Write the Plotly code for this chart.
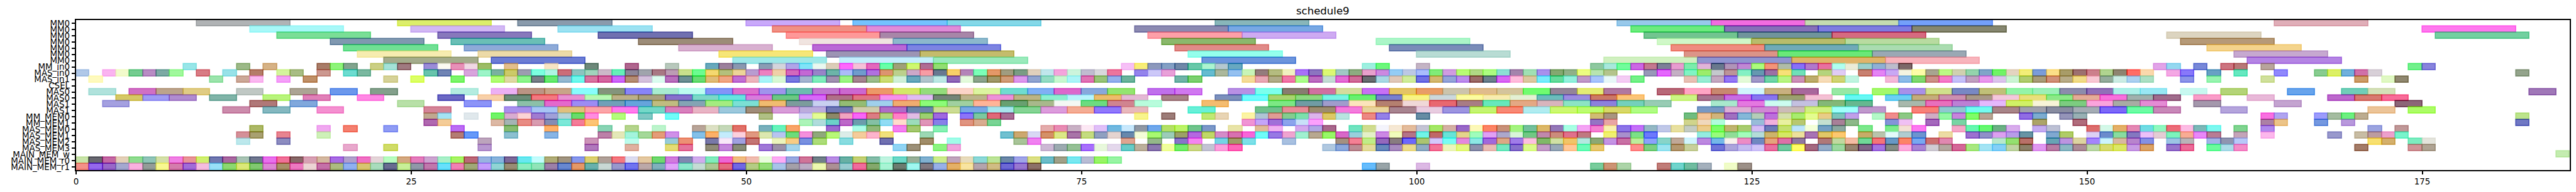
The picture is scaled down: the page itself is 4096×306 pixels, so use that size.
import plotly.graph_objects as go

title = "schedule9"
row_labels = ["MM0","MM0","MM0","MM0","MM0","MM0","MM0","MM_in0","MAS_in0","MAS_in1","CSEL","MAS0","MAS0","MAS1","MAS1",
              "MM_MEM0","MM_MEM1","MAS_MEM0","MAS_MEM1","MAS_MEM2","MAS_MEM3","MAIN_MEM_w","MAIN_MEM_r0","MAIN_MEM_r1"]
x_ticks = [0, 25, 50, 75, 100, 125, 150, 175]
x_limit = 186
# duration of a task on each row
row_durations = [7]*7 + [1]*4 + [2]*4 + [1]*9

# start:colour for each task, row by row
mm0_a = "9:b0b3b5 24:dcee6a 33:8a9bac 50:c9a9fa 58:74c2fe 65:84d8e8 85:88b6ba 115:98c9ea 122:f26ce0 129:c4dbb0 136:74a0fa 164:e0aeb8".split()
mm0_b = "13:a8f8f8 25:d2b8f4 36:9ce2f2 52:f09084 59:e08cd8 79:8c8ab2 86:78a8e4 116:6ceb7e 123:8670b8 130:7e7ce0 137:868770 175:ff78ee".split()
mm0_c = "15:7ade96 27:8878bc 39:7070b0 53:fe9898 60:a886a8 80:fe9fa8 87:ceaaf2 117:72c490 124:70949c 131:d66a80 156:dcd4c0 176:72d0a0".split()
mm0_d = "19:8098b0 28:6abfb6 42:9c8c78 54:f0e4e0 61:8cb8cc 81:8ab86c 97:abf6c8 118:d0f8c8 125:b8bc6c 132:b8dba0 157:b69a78".split()
mm0_e = "20:70e094 29:8eaad8 45:d8b0d0 55:ba68d6 62:7d84e2 82:e08a88 98:7a8cb8 119:f08c80 126:70aab8 133:aadcb0 159:f4d48c".split()
mm0_f = "21:f6ecb0 30:ecdaa8 48:f6e678 56:9c94b4 63:c4bc6c 83:94ffec 100:b8dcd4 120:dc9488 127:6ae878 134:9aa8b4 161:c6a8d0".split()
mm0_g = "23:a4ac8c 31:6b7cd4 49:9ee8e8 57:c4eefc 64:9aeabc 84:6c94dc 114:d0f0c0 121:9094d0 128:e0b46a 135:f8b4bc 162:b484e4".split()
mm_in0 = ("8:98e6e8 12:9cb988 14:d6b286 18:a87c68 19:8ef47a 20:82a48e 22:cbcf84 23:a4e2d8 24:a07a80 26:9a8cd8 27:fbfbf2 28:e890b8 29:f0d8e4 30:9cbc64 32:e4be8c 35:f8e4c4 38:6e887a 41:b0668e "
          "44:b8c8bc 47:68a8bc 48:9c809c 49:8a98b0 51:8a9cb4 52:d4d4dc 53:b0a4e8 54:80e4f8 55:eaf8f0 56:dccdb8 57:ff68fc 58:f6c0d8 59:e468bc 60:68ffa8 61:a0a078 62:cff870 63:b06c94 64:92de72 "
          "78:f6c0f6 79:f8ee78 80:8c98bc 81:84a0c4 82:7088a8 83:68c8a8 84:acf4d0 85:b4c8d0 86:68a8c0 96:9ef0e0 97:6cf87c 100:c4b4c4 113:8ec8a0 114:a8e8dc 115:72fc9c "
          "116:cc68e4 117:c47890 118:7c7f98 119:e89cd0 120:7cecac 121:e0b4d8 122:68788c 123:b094b8 124:c088d4 125:acfc7c 126:f49478 127:b0bca8 128:8870f8 129:b078cc 130:e870a0 131:b0fff0 132:ebecd8 133:9cd0cc 134:90b0d4 135:bcbccc 136:7c6868 "
          "155:e2a4e8 156:94d8f0 158:7888d8 160:cc7480 161:b87878 163:b8a49c 174:72f08c 175:8884dc").split()
mas_in0 = ("0:b0c8e8 2:fab4f0 3:f2fbcc 4:74cc90 5:b88cc4 6:7caaa4 7:a0f89c 9:d87c84 11:98e2e8 13:b47c68 15:d4f49c 16:a8bc84 18:cc9890 20:6cdcd0 21:7ab8a0 26:68c4ac 27:7084b4 29:d8a4dc 30:9cf4c8 31:7ab0a0 32:ccca68 33:9c9cb0 34:7cffe0 35:aef4e4 36:cc6c78 37:8cc4c0 38:a0d4bc 39:ccb8c8 40:64f0b8 41:8c8498 42:a0a4ac "
           "43:a87884 44:bc9cb4 45:c8e08c 46:6cfc90 47:f4d870 48:b4c07c 49:ecd498 50:b89cd0 51:ec80c0 52:f0d0a8 53:d468bc 54:c468d4 55:9884c8 56:6cb4a8 57:acbcf8 58:709ccc 59:b070e0 60:dc9470 61:bcd08c 62:cca8c8 63:f89ca4 64:687890 65:f8d068 66:b484b8 "
           "67:7cffb8 68:e49868 69:a09c80 70:7a9c84 71:e0d0bc 72:c0e6ec 73:f4a4dc 74:ccf4dc 75:c0bcd0 76:d8d8dc 77:ec749c 79:9484ec 80:ccc8f8 81:e8a0d8 84:64bcd0 85:acb89c 86:94c0f0 87:c8f4b8 88:947c7c 89:b4bc80 90:f0f0c0 91:a870f8 "
           "92:8c74c0 93:dcf874 94:a0c8c4 95:8cac80 96:e8a0cc 97:cc88e0 98:94ccf4 99:bcc8e4 100:a8bcfc 101:80ec78 102:d09ce0 103:b8fc74 104:b0d884 105:acfc80 106:8ce0d4 107:a484ac 108:a0e0b4 109:a890ec 110:84a870 111:90b088 112:ecfc80 113:b8e4b0 114:b4c48c "
           "117:9898b8 118:e468fc 119:c4b0c4 120:80f4c4 121:9cec6c 122:c4c8cc 123:bc9498 124:84f0c4 125:6498b0 126:9c70a4 127:f8e078 128:70e0b8 130:b4d47c 131:e0ccf4 133:c88070 134:e484f4 135:c8a8f4 136:f4f4e0 137:fcfca8 138:a8a490 139:bcf884 "
           "140:d0d0b0 141:94d4ac 142:80a4c8 143:70f45c 144:e4d4c0 145:f2ee78 146:7a9cd8 147:fbdf88 148:a89c68 149:9c7070 150:cc808c 151:b0d490 152:8e8470 153:ff6c64 154:fad8ac 156:f4a8e4 157:8878fa 159:68a0c4 161:64e8c0 164:9088fc 167:88cc90 168:dcf060 169:70b0dc 170:d070a8 171:d8d0d8 182:94a48c").split()
mas_in1 = ("1:fefabe 10:9ce4ac 12:cca898 13:fab8f0 15:f4a0f8 17:c09068 23:d6d298 25:dcff64 28:7cf46c 31:b0fc74 32:ded8a4 33:8cf48c 34:788088 35:68e870 36:94b8d0 37:70f8ec 38:d874a0 39:d464a0 40:cc68f8 41:b48c74 42:d4c0dc "
           "43:dcfcf0 44:b870bc 45:6c9094 46:68dc74 47:e0bc78 48:f0a684 49:c070d4 50:ecb4bc 51:a8f4f8 52:d8f8d4 53:7878e0 54:a4b4d0 55:80ecbc 56:a090b0 57:9cf484 58:a48490 59:9cbc8c 60:ccdc74 61:d0f0d8 62:68a8bc 63:b0c4cc 64:bce8e4 65:9068b8 66:e4fadc "
           "67:8ca48c 68:a09868 69:d09c78 70:dc98ec 71:90a4d0 72:94dcc4 73:c8f8d0 74:acf4f8 75:e074b4 76:98c478 77:94b0ec 78:6cb49c 82:70b4a8 83:7cd070 87:f4dc98 88:e8a8b4 89:b0ac88 90:f078a8 91:acfc8c "
           "92:bc6cc0 93:c4dcd4 94:e46cd4 95:d06c98 96:686c70 97:a8d8e4 98:e0c8b8 99:d0ec9c 100:7070e4 101:d4b870 102:94a4d8 103:bc8cec 104:9c6c68 105:6c808c 106:d868f4 107:ffbcdc 108:dcc8a0 109:78ecfc 110:64dc9c 111:94f0dc 112:c098c8 113:a8c4fc 114:e8f8f8 115:f4ccf4 "
           "116:74f088 120:e8c0b4 121:98ecd4 122:c4a8c0 123:9478f4 124:e4fad8 125:a098c8 126:70d4a8 127:b8f484 128:cc90b8 129:bcac6c 130:f6dcb8 131:d0d474 132:c0f4e0 135:f4b8d8 136:8cbce8 137:80d870 138:cc9088 139:f47cc8 "
           "140:c4c0f8 141:c0a0c0 142:e898ec 143:dcc4ec 144:ccf4d4 145:b0cc70 146:a89c78 147:d09078 148:b8ac88 149:f0dc88 150:f8c8d4 151:94ac9c 152:ccece4 153:acd0f0 154:ace0c4 157:8c94e8 159:98f4b0 163:d0e09c 170:cc9c68 172:e0f8c4 173:908870").split()
csel = []
mas0_a = ("1:b0e2dc 4:d070c4 6:bca48c 8:e0cc84 12:c0c8c4 16:aca494 19:6c98ec 22:84a08c 28:b4ece0 31:ecb0f4 33:bc9484 35:c8a488 37:88fcfc 39:84947c 41:8884f8 43:a8ecd0 45:bcfcf0 47:8494f8 49:dc70cc 51:a094ec 53:6cbcb0 55:c078d0 57:cc68d0 59:ec9868 61:d4e868 63:94dc7c 65:fbd4c8 "
          "67:dcf4a0 69:70dcd0 71:80b0f4 73:dc68cc 75:88a8dc 77:94e470 80:c070ec 82:d078f0 86:b890e4 88:7cffec 90:887c70 92:d070a0 94:d4dc9c 96:c870f4 98:e4c464 100:e89c68 102:ccc4ac 104:e0bc8c 106:d4c49c 108:70fc70 110:948498 112:e4ec74 114:b078a0 "
          "118:b86878 120:ffa4c4 122:c88870 124:d0f4fc 126:c8b080 128:a8689c 131:98e8a4 134:a4f86c 136:a890e8 138:d0e08c 140:7888c4 142:c0c078 144:94f4a8 146:9cf0b8 148:8c8cac 150:9070b8 152:acf0e8 154:98e8f4 157:c8f8f0 160:b4d478 165:68a4ec 169:70ceb8 171:d4e0b8 183:a078b8").split()
mas0_b = ("3:d6c864 5:a09cf4 7:b08cd0 10:80b4a8 14:b8f47c 17:e080b8 21:ff88e4 27:6c68c4 30:f8d0a8 32:6c8c78 34:f47880 36:e890d0 38:b8f8b4 40:bcb088 42:a8a080 44:8870cc 46:7cd8c8 48:68e4e0 50:d87cdc 52:6cc884 54:d868f8 56:b07088 58:e07484 60:f690ec 62:e0bcf4 64:748478 66:bcb48c "
          "68:ec90d8 70:bcb484 72:8cf0d0 74:b8f4fc 76:ecbc6c 78:e4b8d4 81:a88488 85:7c90bc 87:70fcfc 89:a8d470 91:8cd880 93:78f4e4 95:68f070 97:7880d0 99:f8f484 101:ccd8dc 103:fcfca0 105:f8ecb0 107:e4f0d4 109:6cbcbc 111:9c8ce0 113:cc7864 115:fcc478 "
          "119:ccf484 121:a87490 123:c86ce4 125:8874f0 127:9ca070 129:f4c0d4 132:68f8f4 135:6cd0f4 137:c4ac7c 139:cc90b0 141:a89888 143:f4c8dc 145:e8e07c 147:8ce888 149:e4ac98 151:f870dc 153:a0b0ac 155:a06c8c 158:fa9cc8 162:e8b8d8 168:bc68cc 170:d87870 172:f86c98").split()
mas1_a = ("2:a4a0e0 13:b07878 16:80a8dc 24:b8e0a8 29:8c94f8 33:8cc0a8 35:e468cc 37:9c8cf4 39:70a0b8 41:64a4dc 43:c0bc80 45:84a4b4 47:a4ec80 49:7ce0d4 51:f0bc70 53:7c9c9c 55:c8d0f0 57:94bc74 59:a0d0ec 61:f0ac70 63:8cfc78 65:a0d0a0 "
          "67:ffb498 69:68a070 71:a8b88c 73:f4f8f4 75:6cdc80 77:d08490 79:b8fcdc 84:f4bc70 89:7ce884 91:709ca4 93:a09ccc 95:fce4bc 97:b48070 99:f0d8d8 101:e86870 103:a87c84 105:64e8bc 107:e4a884 109:d8b4bc 111:8ce4c4 113:8c80dc 115:74d0bc 117:98ccb4 "
          "122:a8e8cc 124:e478e0 126:ccfcf0 128:c4c0e0 130:84b878 132:64b890 136:a8b8ac 138:e870bc 140:bc80d4 142:e4b8fc 144:d0f060 146:f8f4d8 148:7ccc80 150:fba4dc 152:a8aca4 154:e48cd4 158:a498ac 164:c4a4d0 173:8c6478").split()
mas1_b = ("11:cc8cac 14:84b8c0 18:f490d0 26:d48498 32:a890ec 34:a8c4f4 36:e0c07c 38:fca4a8 40:ff7cec 42:74d8c8 44:d880bc 46:e8b4c4 48:9cc8dc 50:a08c78 52:d89cd8 54:bcacdc 56:7078b4 58:d0ccac 60:b06cc8 62:6c84ac 64:ccdc94 66:78a8e4 "
          "68:a8e4ec 70:84d494 72:dc9cdc 74:f4ac94 76:9078fc 78:e8b8bc 83:68f0d8 88:70c08c 90:e88c98 92:9c8c70 94:f47cdc 96:e8d49c 98:a88490 100:e8cce0 102:9c94e0 104:c4f470 106:f88874 108:b0ecf0 110:ccf870 112:bcfc70 114:d8d868 "
          "116:b0fc84 121:7898c4 123:dcb0d4 125:d088d4 127:ccbcb8 129:d0f080 131:a0fffc 133:c098cc 137:f88078 139:90c8d0 141:74fcf0 143:a88488 145:a0a0ac 147:888ca0 149:a4acb4 151:7c68f8 153:6cfca4 155:c888b8 160:b4a4dc 171:ecc498 174:acfc60").split()
mm_mem0 = ("26:c0a890 27:a4e4f4 29:e0e8ec 31:70f468 32:d8acd0 33:fcd4d4 34:a07cd0 35:a0a0d8 36:b4d4d8 37:68dc6c 38:ff8ce0 40:b4fc7c 42:80c8c4 44:70fcf8 51:b0c084 54:d4d0f4 55:e4fc94 56:8c8868 57:f0a4c0 58:f864f8 59:dc7c84 60:b0d87c 61:ff80c8 62:e0bce4 63:9cd070 64:a068e0 66:8c74f8 "
           "67:7cc8a0 68:e06878 69:a86c94 79:f8f48c 81:9c7c78 84:c0e874 85:e8d4b4 87:fcf4a4 88:b0c4d4 89:e09c94 90:84cc90 91:7ce0ac 92:dcb4ec 93:dcc864 94:b8e4e0 96:ec8884 97:9480e8 100:648ca4 113:d0bc74 114:a89480 "
           "120:70bc80 121:f4c498 122:d0b47c 123:a070c0 124:84b8d8 125:b4ccb8 126:bc70dc 127:d4e0ac 128:a8ec70 129:e4fc90 130:e8cc88 131:7cc4bc 132:c0a0e8 134:b4f8c8 135:f08c8c 136:8cc884 138:d0acc4 139:94f8a4 "
           "140:c884dc 141:80fc68 142:b8a494 145:906ce4 146:7cacd0 148:9494b8 149:98b0b4 163:f870e0 164:b0a4f0 167:9c9cfc 168:a4bca0 169:6cf080 170:bcac90 182:bce48c").split()
mm_mem1 = ("26:b068b0 27:f4cc98 31:dcb8a4 32:a4b4b4 33:e88c84 34:d89cb0 35:848cb4 36:7ce8d8 37:f47c98 38:fcc474 54:acf4b8 55:b0dcdc 56:6cd0c8 57:bc68c8 58:6c9cac 59:84c0a4 60:90dcf4 61:ffdccc 62:9cdcbc 63:e094b8 64:8880e8 66:e09480 "
           "67:d8ac90 68:78d494 87:f094d4 88:c4a4f8 89:a070d8 90:8ca4ec 91:c8e0f8 92:fca0fc 113:9474c4 114:e8a4a4 120:d0d48c 121:f0d8bc 122:b0fcdc 125:98bcd8 126:f0b0dc 127:e8f0a0 128:b8c870 130:c4e0d0 131:a88098 132:8cb888 135:8494d8 136:f0c0f4 138:a468bc "
           "140:78d4a4 146:aca468 149:b06c7c 163:ac80a4 164:ecc488 167:7498e0 169:b898dc 182:7078c4").split()
mas_mem0 = ("13:acb860 18:f0a8f0 20:f48070 23:909cf4 28:bc6cf4 32:88bc70 35:ffb068 39:88d4b4 41:b4d48c 43:bcf4cc 46:b8a498 47:dce0c4 48:c4d8b8 49:e07068 51:78b0bc 52:68f4bc 53:f8a468 56:9c68d0 58:acfce8 59:90b878 61:f480f0 62:a4c870 64:88f0b4 "
            "72:e4acac 73:e88cb4 74:c8b0c4 75:fce8f4 76:e0c0f8 77:70b8e0 78:c8e8fc 79:9098a4 80:70a8ec 81:b4e064 82:bcf468 83:70c48c 84:7c98c8 86:e8e4a8 88:e0bc98 89:f0b0f0 91:d4a8ec 92:b0a8e4 93:a8688c 95:70e4c0 96:d0dc90 97:f4f4fc 98:f6e8d4 99:e4bc9c 100:c4c4d4 101:a4e864 102:d4b0a4 103:9868c8 104:fcf8b8 105:fc8464 106:c89078 107:a4f480 108:74c09c 109:dcb868 110:9478b8 111:a8ffe4 112:f4a4f4 113:f480d0 114:f8f0b0 115:8c74e8 "
            "116:c470f8 117:94b8c4 118:c0c8e8 119:e8e0a0 120:c4ccc4 121:eccc8c 122:7cfc68 123:c0b470 124:a8cc70 125:d4bcf4 126:6c7cb8 127:c4e070 128:bce4fc 129:f4ffd8 130:74a0c4 131:8ca8a0 133:7ce88c 135:7cec8c 136:f4e0d4 137:fc78f0 "
            "140:f4a8c8 141:64f8b0 142:5cf870 143:6cb084 144:d8acec 146:c4acf0 147:bcc0d4 150:dc6c6c 151:d4f8e8 152:e4b068 153:e488b4 154:70dce4 155:90f8c0 156:ec6c78 157:fcbce4 158:7cb8b8 159:7cf8f0 161:80d490 163:b088ec 171:9ca4e0 173:c09898").split()
mas_mem1 = ("12:d49098 13:a8a070 15:e88490 18:cef0b8 28:b47c74 29:6498f8 32:8cc0d0 35:88b4e4 39:bc80a8 40:e4e8b8 41:a4f4dc 42:a4d898 43:e49c78 44:d090e8 46:84c0e8 47:fcb068 48:c4ecfc 49:fcd0dc 50:e09880 51:dce8b0 52:b8c4f0 53:6cdc7c 54:f490dc 55:90a87c 56:b8f878 57:dcece8 58:f4cc9c 59:fcb4cc 60:f0e07c 63:9cd8b4 "
            "69:70c0d0 70:cca870 71:d8d8f4 72:d49068 73:dce888 74:a874a8 75:c4dc80 76:90a0c0 77:e4d4d0 78:6888ac 79:f4fcd8 80:a8f870 81:9cccb8 82:9ca068 83:b468e0 84:c0d868 85:d48cc8 86:d870b0 87:f864d8 88:70fcf8 89:9878e4 90:f0a4d0 91:a0f0d0 "
            "92:b8a890 93:98f868 94:d868c8 95:98d0dc 96:e4f0c8 97:cc88e4 98:f0fcbc 99:b47488 100:70f4e8 101:c06868 102:68e4d8 103:e4d48c 104:a0fcbc 105:e0a0f4 106:aca8cc 107:d8f4d8 108:70c884 109:c088ac 110:cc8c7c 111:e0708c 112:c07880 114:f0f070 115:a890cc "
            "116:7ce088 117:6c78fc 121:94ece0 122:98fc7c 123:90dc98 124:a4fcbc 125:b4dcd8 126:ccb46c 127:d4e864 128:ece09c 129:a874b4 130:e0c868 131:fcc870 133:c8ac68 134:b8c4ac 135:e4fafa 136:b0ccd0 137:6c94d0 139:ecdca4 "
            "141:9c70d0 142:9090c8 143:dca0f0 144:b89ce8 145:6894a4 147:80a8d0 148:b0cc68 150:dcd0f4 151:6c8ccc 152:88dca0 153:8478c0 154:ecc0f8 155:e4ccd4 156:7cf4bc 157:f8ac94 158:e888f8 159:b87c94 161:c4a4b8 163:fcb8ec 168:9898cc 170:c8bca4 171:bc9ca0 172:eca0cc 173:78f4cc").split()
mas_mem2 = ("12:bce8ec 15:8c8cc0 30:bca4bc 38:cc94b8 41:bcfcec 44:98ccd8 45:ec9074 47:7878a8 48:f8e8f8 49:a0a0e0 50:c47474 52:ecf4bc 53:f8cc84 54:7890e0 55:acdc78 57:88dce0 60:7070b0 63:a08c68 65:a0fce8 70:a8c498 71:f080f0 78:e0a490 80:94b888 82:8874c8 83:f484f0 85:74d4e4 86:a09c68 87:7ce0e8 90:a8c0e0 "
            "94:a49080 95:f48094 96:c0ec88 97:9468bc 98:887c80 99:6c68fc 100:acc470 101:d4c8fc 102:78fcf4 103:e488dc 104:8ce8e4 105:a068dc 106:dca884 107:a07ce8 108:fcc0e0 109:80b868 110:d0e0a4 111:f0c468 112:b4e8e0 113:8ca874 114:c494e4 115:c870a4 "
            "116:bcec9c 117:8ca0fc 118:88d4c8 119:c0a898 120:d0f4fc 121:bc88e0 122:74b8e8 123:f8f0ec 124:ec8cc4 125:7088c0 126:e4a47c 127:dc70a8 128:9078a0 130:b07878 131:c0d8a0 132:f4bca4 133:70d898 134:f47478 135:6898c4 136:fc8460 137:78a8f0 138:cc7070 139:e088b0 "
            "143:b8e8cc 144:94e070 145:b87068 147:64a4b4 148:bc94e0 149:dcd4a0 150:a484fc 151:ccf4fc 152:d8b8a0 153:b884cc 154:8490e4 156:9cc4e4 157:b8b4b8 159:a4b4e8 160:9094b0 161:b8c8f8 171:f8e070 172:d4b06c 174:7cecc0 175:e4e4dc").split()
mas_mem3 = ("20:e8a8cc 23:d0dc68 30:b898d0 38:b078bc 41:e0b0a0 44:e4dc74 45:e4749c 47:908c78 48:c488dc 49:888c78 51:a078d8 52:9c90a8 53:a4d4ec 61:90d4f4 62:9c9078 64:8cf480 65:f0a4dc 72:ccb8d4 73:9caab0 74:94c094 75:a870fc 76:e8f8dc 77:e4d8ec 78:68ccc8 79:bcb09c 80:8c78b0 81:f0ff9c 82:74ec6c 83:ccd888 84:c4c4d4 85:fca0dc 86:ff64b8 "
            "93:b0c8e0 94:8ca8dc 95:bc8c94 96:e4dc9c 97:6888bc 98:a88cc0 99:ecdc8c 100:90acc4 101:f47498 102:ecf4bc 103:e4f880 104:8c90ac 105:e8bcb4 106:74e8c0 107:8870cc 108:dcfc8c 109:c49cc8 110:98a8b8 111:ffc898 112:6cfcb8 113:e8c870 "
            "116:ff8c8c 117:7cd080 118:9ce4f0 119:b49870 120:c8d09c 122:7074d8 123:aca4dc 124:c4bcf0 125:d0c4f8 126:e870a0 127:70c8a0 128:fffc64 129:a46880 130:94acc8 131:9cd8a0 132:988470 133:806488 134:a474e0 135:848c84 136:fcacdc 137:a884d4 138:d0ccd4 139:b4a8a0 "
            "140:d46898 141:a8e880 142:a4e4f4 143:84d0f8 144:c0d4a4 145:8c8068 146:e098f0 147:b87ca4 148:8cb8c4 149:ac8c98 150:bcd8a8 151:d8dc70 152:dce860 153:c89ce4 154:dca468 156:9874cc 157:ec6c98 159:6cfc9c 160:acdce8 161:f48cc8 170:a47c68 174:d09498 175:b0a494").split()
main_mem_w = "185:c4ecb0".split()
main_mem_r0 = ("0:c8e4a8 1:686870 2:c468a4 3:e4d0b8 4:90dc90 5:90c4b8 6:d4e0a8 7:f080e4 8:e89498 9:d0f070 10:7078b0 11:a868a0 12:a8c4b4 13:707890 14:e870ec 15:f07098 16:886868 17:d8a0b4 18:d4b8a0 "
               "19:a86ce4 20:b0a0cc 21:f070c4 22:e4d4d8 23:b8fcc0 24:d4a880 25:e47cbc 26:cca4d0 27:a8f0c8 28:a8f460 29:bc6878 30:98b4e0 31:88b4dc 32:7c6898 33:68e8f0 34:c4fcfc 35:b0ac78 36:a09480 37:8898ec 38:dcd070 39:b0a098 40:f47880 41:dcdcf0 42:e4c8a0 "
               "43:70d870 44:d07cdc 45:8088b0 46:d0acec 47:80ecbc 48:ec64d4 49:f0bc80 50:f0bcb0 51:e8fcdc 52:fcacf4 53:98a8e0 54:d07498 55:708088 56:b88ce4 57:68b0a4 58:c4d074 59:84bca8 60:c0f4e0 61:6cd8c8 62:98b098 63:80b0d0 64:ccec8c 65:c0a4bc 66:e8dcbc "
               "67:8cd8d8 68:bce498 69:6c88a8 70:a0a4e8 71:dce084 72:6cbcc8 73:a0a088 74:78e8f0 75:b8bcd4 76:98f464 77:98f4a4").split()
main_mem_r1 = ("0:f49088 1:9468ec 2:9868c8 3:a4a8d0 4:fab0e0 5:949c98 6:f8f890 7:d47cac 8:a06cd8 9:f4bce0 10:98e0f8 11:8cd870 12:dce878 13:80c870 14:dc88d4 15:a89068 16:ec78c0 17:ecd4d4 18:c470a8 "
               "19:acbc80 20:90b0f0 21:d8c470 22:a8dcbc 23:686c90 24:c8f098 25:9098a8 26:c078ac 27:68e0fc 28:f080b4 29:a0a878 30:c49cfc 31:90d4d4 32:988c74 33:8cecc0 34:90e4b8 35:9c80a8 36:6888d0 37:e49868 38:68b0ac 39:c8d8d4 40:9898cc 41:7074f0 42:bca8a8 "
               "43:80b0bc 44:e0a4f8 45:8ce8cc 46:c4dcd4 47:acc894 48:e46c80 49:7068e4 50:b4cc84 51:94dc78 52:a8c4e8 53:a4a0a8 54:bcacc4 55:ecf8b0 56:ac9094 57:98ccd0 58:f06c9c 59:84a86c 60:a8f4d4 61:6c7c70 62:a0f8f0 63:807880 64:98b0e8 65:e4b060 66:f8e4a0 "
               "67:b4a4ac 68:d0bc84 69:6c68d4 70:9878d0 71:8c7068 96:64bcfc 97:98a4a8 100:dcb8e4 113:78cc9c 114:cc9474 115:acd4a8 118:c07c78 119:70d4cc 120:70bca0 121:a4b0bc 123:f0fcc8 124:9c9088").split()

rows = [mm0_a, mm0_b, mm0_c, mm0_d, mm0_e, mm0_f, mm0_g, mm_in0, mas_in0, mas_in1, csel, mas0_a, mas0_b, mas1_a, mas1_b,
        mm_mem0, mm_mem1, mas_mem0, mas_mem1, mas_mem2, mas_mem3, main_mem_w, main_mem_r0, main_mem_r1]

ALPHA = 0.6
S = 4096 / 7926


def rgba(hexcode):
    out = []
    for i in (0, 2, 4):
        v = int(hexcode[i:i + 2], 16)
        out.append(max(0, min(255, round((v - (1 - ALPHA) * 255) / ALPHA))))
    return f"rgba({out[0]},{out[1]},{out[2]},{ALPHA})"


fig = go.Figure()
for r, (tasks, dur) in enumerate(zip(rows, row_durations)):
    if not tasks:
        continue
    starts = [int(t.split(":")[0]) for t in tasks]
    cols = [rgba(t.split(":")[1]) for t in tasks]
    fig.add_trace(go.Bar(
        base=starts, x=[dur] * len(starts), y=[r] * len(starts), width=1, orientation="h",
        marker=dict(color=cols, line=dict(color=cols, width=3.2 * S)),
        showlegend=False, hoverinfo="skip",
    ))

font = dict(family="DejaVu Sans", color="black")
axis_common = dict(showline=True, mirror=True, linecolor="black", linewidth=4 * S, showgrid=False, zeroline=False,
                   ticks="outside", ticklen=10 * S, tickwidth=3 * S, tickcolor="black",
                   tickfont=dict(size=26 * S, **font))
fig.update_layout(
    width=4096, height=306, autosize=False, barmode="overlay", bargap=0,
    paper_bgcolor="white", plot_bgcolor="white",
    margin=dict(l=234 * S, r=(7926 - 7906) * S, t=62.7 * S, b=(592 - 525) * S, autoexpand=False),
    title=dict(text=title, x=(234 + 7906) / 2 / 7926, xanchor="center", y=1 - 34 / 592, yanchor="middle",
               font=dict(size=32 * S, **font)),
    xaxis=dict(range=[0, x_limit], tickvals=x_ticks, ticktext=[str(v) for v in x_ticks], **axis_common),
    yaxis=dict(range=[23.5, -0.5], tickvals=list(range(len(row_labels))), ticktext=row_labels, **axis_common),
)
fig.write_html("out.html", config=dict(displayModeBar=False),
               post_script="document.body.style.margin='0';document.body.style.overflow='hidden';")
